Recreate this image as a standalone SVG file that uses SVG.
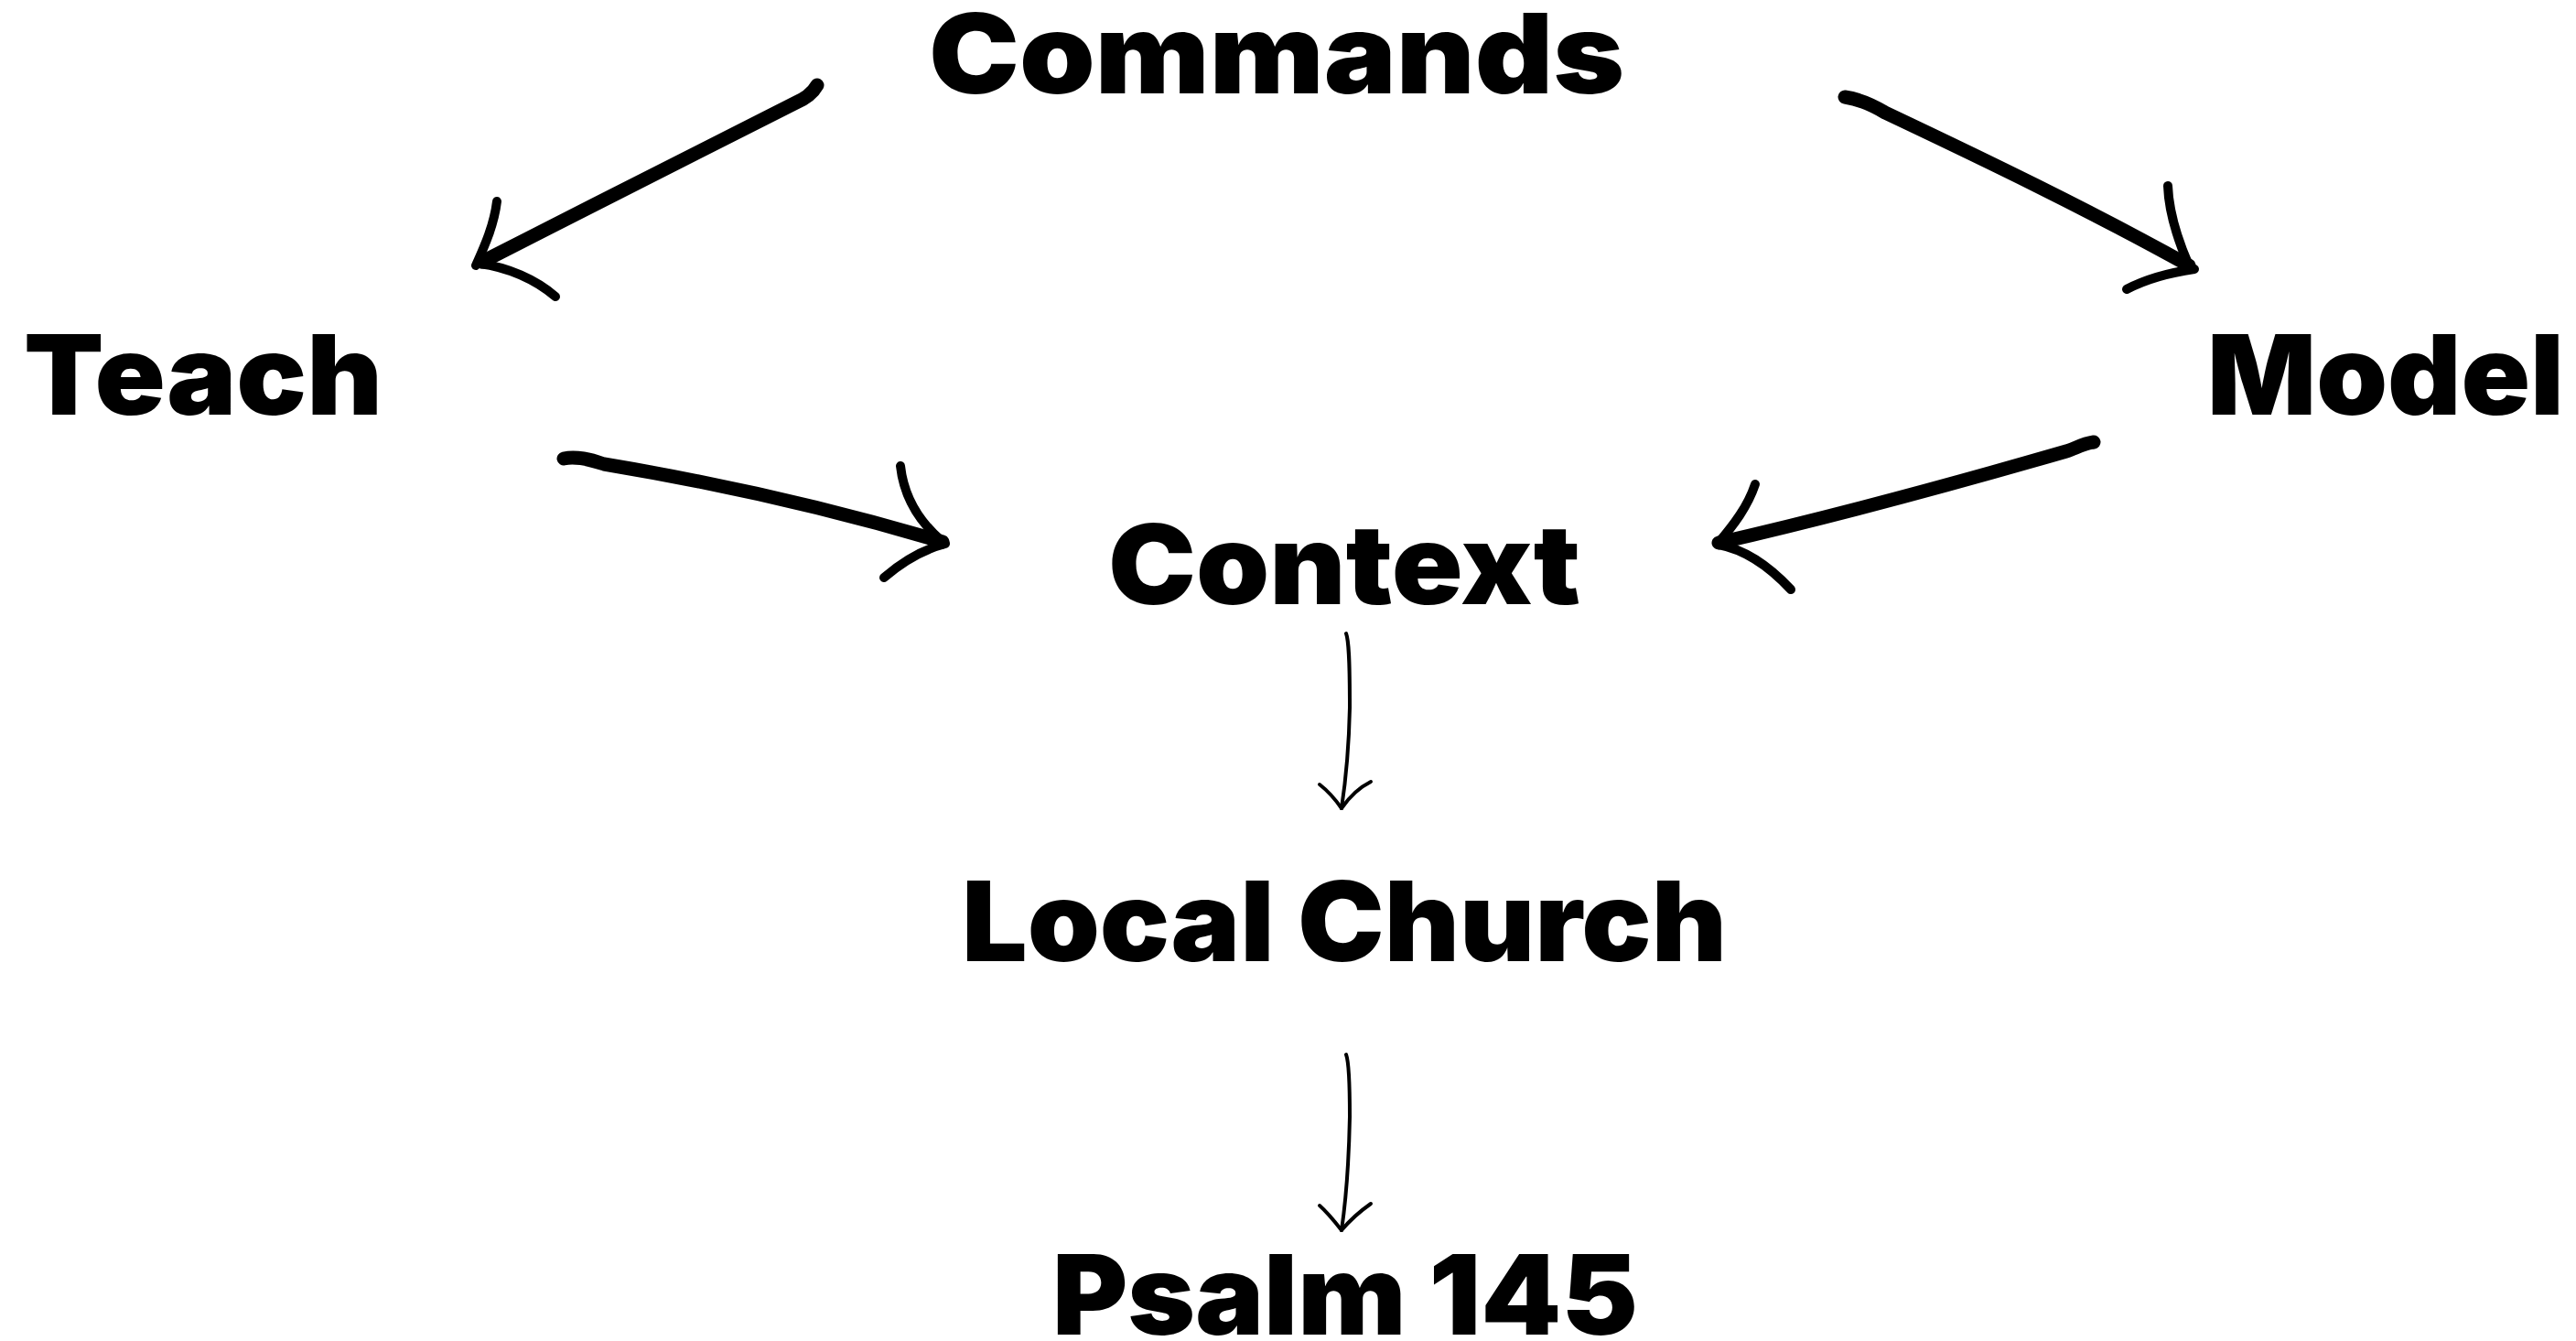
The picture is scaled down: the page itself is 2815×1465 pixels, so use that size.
<svg xmlns="http://www.w3.org/2000/svg" width="2815" height="1465" viewBox="0 0 2815 1465">
<style>
.lbl{font-family:Inter,"Liberation Sans",Arial,sans-serif;font-weight:900;font-size:121px;fill:#000}
.brush{fill:none;stroke:#000;stroke-width:15;stroke-linecap:round;stroke-linejoin:round}
.barb{fill:none;stroke:#000;stroke-width:10;stroke-linecap:round;stroke-linejoin:round}
.thin{fill:none;stroke:#000;stroke-width:4;stroke-linecap:round;stroke-linejoin:round}
</style>
<rect width="2815" height="1465" fill="#fff"/>
<g id="node-commands"><text class="lbl" x="1015" y="102" textLength="760" lengthAdjust="spacingAndGlyphs">Commands</text></g>
<g id="node-teach"><text class="lbl" x="26" y="453" textLength="392" lengthAdjust="spacingAndGlyphs">Teach</text></g>
<g id="node-model"><text class="lbl" x="2412" y="453" textLength="390" lengthAdjust="spacingAndGlyphs">Model</text></g>
<g id="node-context"><text class="lbl" x="1211" y="660" textLength="516" lengthAdjust="spacingAndGlyphs">Context</text></g>
<g id="node-local-church"><text class="lbl" x="1051" y="1050" textLength="836" lengthAdjust="spacingAndGlyphs">Local Church</text></g>
<g id="node-psalm"><text class="lbl" x="1150" y="1458" textLength="640" lengthAdjust="spacingAndGlyphs">Psalm 145</text></g>
<g id="connectors">
  <!-- Commands -> Teach -->
  <path class="brush" d="M893,93 C888,102 880,108 868,113 C760,168 640,228 527,286"/>
  <path class="barb" d="M543,220 C540,245 530,268 520,290"/>
  <path class="barb" d="M524,288 C555,292 585,305 607,324"/>
  <!-- Commands -> Model -->
  <path class="brush" d="M2016,106 C2030,108 2045,114 2060,123 C2170,175 2280,228 2392,290"/>
  <path class="barb" d="M2369,203 C2370,230 2378,258 2392,290"/>
  <path class="barb" d="M2398,294 C2370,298 2345,305 2324,316"/>
  <!-- Teach -> Context -->
  <path class="brush" d="M616,501 C630,498 645,502 660,507 C780,527 910,556 1030,592"/>
  <path class="barb" d="M984,509 C988,545 1005,570 1028,590"/>
  <path class="barb" d="M1033,594 C1010,600 988,612 966,631"/>
  <!-- Model -> Context -->
  <path class="brush" d="M2288,483 C2275,485 2268,490 2258,493 C2130,530 2000,565 1878,593"/>
  <path class="barb" d="M1918,529 C1910,553 1895,573 1877,594"/>
  <path class="barb" d="M1878,595 C1905,600 1930,615 1957,644"/>
  <!-- Context -> Local Church -->
  <path class="thin" d="M1471,692 C1474,700 1475,720 1475,773 C1474,820 1471,850 1466,883"/>
  <path class="thin" d="M1442,857 C1451,864 1459,873 1466,883"/>
  <path class="thin" d="M1498,854 C1486,860 1475,870 1466,883"/>
  <!-- Local Church -> Psalm 145 -->
  <path class="thin" d="M1471,1152 C1474,1160 1475,1180 1475,1220 C1474,1270 1471,1310 1466,1344"/>
  <path class="thin" d="M1442,1317 C1451,1325 1459,1335 1466,1344"/>
  <path class="thin" d="M1498,1315 C1488,1322 1476,1332 1466,1344"/>
</g>
</svg>
